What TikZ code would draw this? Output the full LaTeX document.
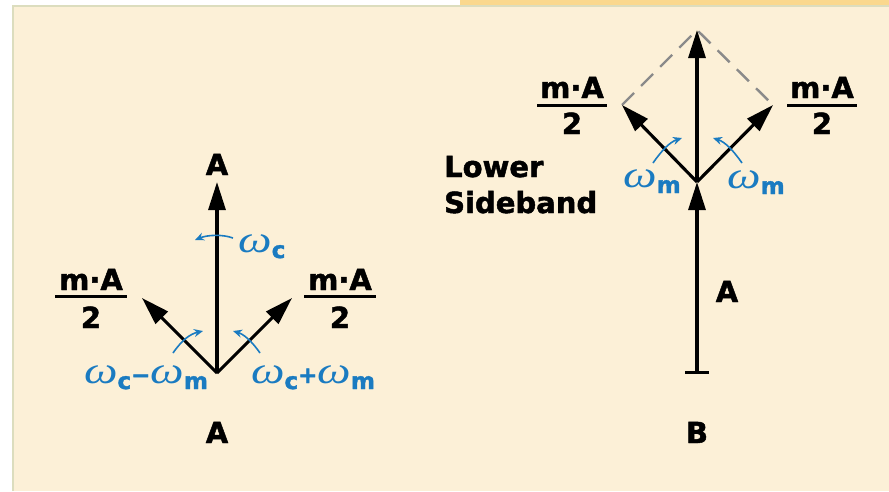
\documentclass[tikz,border=0pt]{standalone}
\usepackage{fontspec}
\usepackage{graphicx}
\setmainfont{DejaVu Sans}[BoldFeatures={FakeBold=1.6}]
\newfontfamily\omf{Liberation Serif}
\usetikzlibrary{arrows.meta}
\definecolor{bg}{HTML}{FCF0D7}
\definecolor{strip}{HTML}{FAD88E}
\definecolor{edge}{HTML}{DCDDBE}
\definecolor{omblue}{HTML}{1A7BC1}
\definecolor{guidegray}{HTML}{8A8A8A}
\newcommand\om[1]{{\omf\mdseries\itshape\fontsize{38}{38}\selectfont\scalebox{1.25}[1]{ω}}\raisebox{-6pt}{#1}}
\tikzset{
  lbl/.style={font=\fontsize{29}{29}\selectfont\bfseries, inner sep=0pt, anchor=base},
  omlbl/.style={text=omblue, font=\fontsize{23}{23}\selectfont\bfseries, inner sep=0pt, anchor=base},
  vec/.style={line width=3.1pt, -{Triangle[length=28pt,width=17pt]}},
  spin/.style={draw=omblue, line width=1.6pt, -{Stealth[length=9pt,width=8pt]}},
  fracbar/.style={line width=3pt},
  guide/.style={draw=guidegray, line width=2.4pt, dash pattern=on 17pt off 10pt},
}
\begin{document}
\begin{tikzpicture}[x=1pt,y=-1pt]
\useasboundingbox (0,0) rectangle (889,491);
% background
\fill[white] (0,0) rectangle (889,491);
\fill[strip] (460,0) rectangle (889,6);
\fill[bg] (13,6) rectangle (889,491);
\draw[edge, line width=1.5pt] (13,491) -- (13,6) -- (889,6);

% ---------- diagram A ----------
\coordinate (oA) at (217,373);
\coordinate (cA) at (217,182);
\coordinate (lA) at (142,298);
\coordinate (rA) at (292,298);
\draw[vec] (oA) -- (cA);
\draw[vec] (oA) -- (lA);
\draw[vec] (oA) -- (rA);

\node[lbl] (topA) at (217,175) {A};
\node[lbl] (nAl) at (91,290) {m·A};
\node[lbl] (dAl) at (91,328) {2};
\draw[fracbar] (55,296) -- (127,296);
\node[lbl] (nAr) at (340,290) {m·A};
\node[lbl] (dAr) at (340,328) {2};
\draw[fracbar] (304,296) -- (376,296);

\node[omlbl, anchor=base west] (wc) at (238,252) {\om{c}};
\node[omlbl] (wcm) at (146,383) {\om{c}−\om{m}};
\node[omlbl] (wcp) at (313,383) {\om{c}+\om{m}};

\draw[spin] (233,238) .. controls (222,234) and (207,235) .. (195,240);
\draw[spin] (173,353) .. controls (182,340) and (190,334) .. (203,331);
\draw[spin] (260,353) .. controls (251,340) and (243,334) .. (233,331);

\node[lbl] (capA) at (217,443) {A};

% ---------- diagram B ----------
\coordinate (bB) at (697,374);
\coordinate (oB) at (697,182);
\coordinate (apB) at (697,30);
\coordinate (lB) at (622,105);
\coordinate (rB) at (773,105);
\draw[guide] (lB) -- (apB) -- (rB);
\draw[line width=3.1pt, {Bar[width=24pt]}-{Triangle[length=28pt,width=17pt]}] (bB) -- (oB);
\draw[vec] (oB) -- (apB);
\draw[vec] (oB) -- (lB);
\draw[vec] (oB) -- (rB);

\node[lbl] (nBl) at (572,98) {m·A};
\node[lbl] (dBl) at (572,134) {2};
\draw[fracbar] (537,105) -- (607,105);
\node[lbl] (nBr) at (822,98) {m·A};
\node[lbl] (dBr) at (822,134) {2};
\draw[fracbar] (787,105) -- (857,105);

\node[lbl, anchor=base west] (low) at (444,177) {Lower};
\node[lbl, anchor=base west] (side) at (444,213) {Sideband};

\node[omlbl] (wml) at (652,187) {\om{m}};
\node[omlbl] (wmr) at (756,188) {\om{m}};
\draw[spin] (653,163) .. controls (662,150) and (670,142) .. (682,138);
\draw[spin] (742,163) .. controls (733,150) and (725,142) .. (713,138);

\node[lbl] (ampB) at (727,302) {A};
\node[lbl] (capB) at (697,443) {B};
\end{tikzpicture}
\end{document}
